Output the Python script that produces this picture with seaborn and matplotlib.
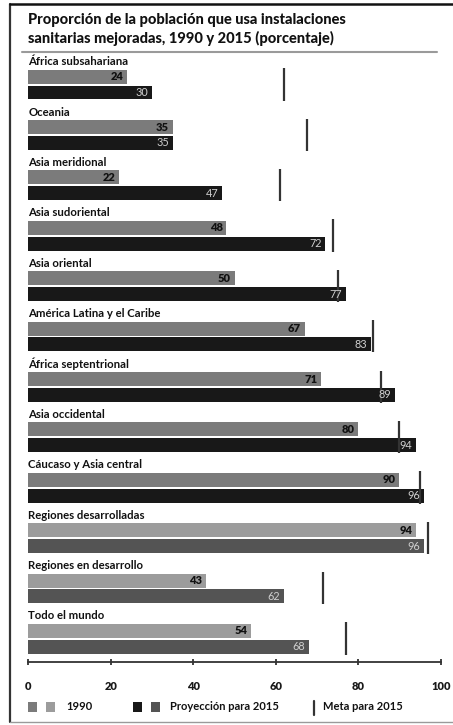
import matplotlib
matplotlib.use("Agg")
import matplotlib.pyplot as plt
from matplotlib.lines import Line2D
from matplotlib.patches import Rectangle
import seaborn as sns
import pandas as pd

# Regions and values (percent of population using improved sanitation)
regions = [
    "África subsahariana", "Oceania", "Asia meridional", "Asia sudoriental",
    "Asia oriental", "América Latina y el Caribe", "África septentrional",
    "Asia occidental", "Cáucaso y Asia central", "Regiones desarrolladas",
    "Regiones en desarrollo", "Todo el mundo",
]
v1990 = [24, 35, 22, 48, 50, 67, 71, 80, 90, 94, 43, 54]
v2015 = [30, 35, 47, 72, 77, 83, 89, 94, 96, 96, 62, 68]
meta2015 = [62, 67.5, 61, 74, 75, 83.5, 85.5, 90, 95, 97, 71.5, 77]
aggregates = ["Regiones desarrolladas", "Regiones en desarrollo", "Todo el mundo"]
xticks = [0, 20, 40, 60, 80, 100]

title_lines = ["Proporción de la población que usa instalaciones",
               "sanitarias mejoradas, 1990 y 2015 (porcentaje)"]
legend_labels = ["1990", "Proyección para 2015", "Meta para 2015"]

FONT = "Lato"
sns.set_theme(style="white")
plt.rcParams["font.family"] = [FONT, "DejaVu Sans"]

W, H = 453, 725
fig = plt.figure(figsize=(W / 100, H / 100), dpi=100)
fig.patch.set_facecolor("white")


def fx(px):
    return px / W


def fy(py):
    return 1 - py / H


# axes in pixel-row units on y so the grouped layout is easy to place
AX_TOP, AX_BOT = 55, 662
X0, X1 = 28.3, 440.7
ax = fig.add_axes([fx(X0), fy(AX_BOT), (X1 - X0) / W, (AX_BOT - AX_TOP) / H])

STEP = 50.39
FIRST_BAR = 76.7
PAIR_GAP = 15.8
BAR_H = 14.0
y1990 = [FIRST_BAR + i * STEP for i in range(len(regions))]
y2015 = [y + PAIR_GAP for y in y1990]
label_y = [y - 15.0 for y in y1990]

rows = []
for i, r in enumerate(regions):
    agg = r in aggregates
    rows.append(dict(region=r, value=v1990[i], ypos=y1990[i],
                     shade="1990b" if agg else "1990a"))
    rows.append(dict(region=r, value=v2015[i], ypos=y2015[i],
                     shade="2015b" if agg else "2015a"))
df = pd.DataFrame(rows)

palette = {"1990a": "#7b7b7b", "2015a": "#181818",
           "1990b": "#9c9c9c", "2015b": "#545454"}

sns.barplot(data=df, x="value", y="ypos", hue="shade", palette=palette,
            orient="h", native_scale=True, dodge=False, errorbar=None,
            width=BAR_H / PAIR_GAP, linewidth=0, legend=False, ax=ax)

ax.set_xlim(0, 100)
ax.set_ylim(AX_BOT, AX_TOP)
ax.set_xlabel("")
ax.set_ylabel("")
ax.set_yticks([])
ax.set_xticks(xticks)
ax.set_xticklabels([str(t) for t in xticks], fontsize=8, fontweight="heavy",
                   color="#1a1a1a")
ax.tick_params(axis="x", direction="inout", length=5, width=1.3,
               color="#333333", pad=11, bottom=True)
for s in ["top", "right", "left"]:
    ax.spines[s].set_visible(False)
ax.spines["bottom"].set_color("#333333")
ax.spines["bottom"].set_linewidth(1.3)
ax.patch.set_alpha(0)

# region names, value labels and target markers
for i, r in enumerate(regions):
    ax.text(0, label_y[i], r, ha="left", va="center", fontsize=8.2,
            fontweight="bold", color="#111111")
    ax.text(v1990[i] - 0.9, y1990[i], str(v1990[i]), ha="right", va="center",
            fontsize=8, fontweight="heavy", color="#111111")
    ax.text(v2015[i] - 0.9, y2015[i], str(v2015[i]), ha="right", va="center",
            fontsize=7.8, color="#d0d0d0")
ax.vlines(meta2015, [y - BAR_H / 2 - 1.5 for y in y1990],
          [y + BAR_H / 2 + 1 for y in y2015], color="#333333", linewidth=1.6)

# title
for k, line in enumerate(title_lines):
    fig.text(fx(28), fy(20 + 18 * k), line, fontsize=10.5, fontweight="black",
             ha="left", va="center", color="#111111")

# frame and rules
fig.add_artist(Line2D([fx(10), fx(10)], [fy(3.5), fy(722)], color="#333333", lw=1.6))
fig.add_artist(Line2D([fx(10), 1], [fy(4), fy(4)], color="#111111", lw=1.8))
fig.add_artist(Line2D([fx(10), 1], [fy(722), fy(722)], color="#9a9a9a", lw=1.0))
fig.add_artist(Line2D([fx(22), fx(437)], [fy(52), fy(52)], color="#9a9a9a", lw=1.5))

# legend
LY = 707


def square(x, color):
    fig.add_artist(Rectangle((fx(x), fy(LY + 5)), 9 / W, 10 / H,
                             transform=fig.transFigure, facecolor=color,
                             edgecolor="none"))


square(28, palette["1990a"])
square(46, palette["1990b"])
fig.text(fx(66), fy(LY), legend_labels[0], fontsize=8, fontweight="bold",
         ha="left", va="center", color="#111111")
square(133, palette["2015a"])
square(151, palette["2015b"])
fig.text(fx(170), fy(LY), legend_labels[1], fontsize=8, fontweight="bold",
         ha="left", va="center", color="#111111")
fig.add_artist(Line2D([fx(314), fx(314)], [fy(701), fy(715)], color="#333333", lw=1.6))
fig.text(fx(323), fy(LY - 1), legend_labels[2], fontsize=8, fontweight="bold",
         ha="left", va="center", color="#111111")

fig.savefig("out.png", dpi=100, facecolor="white")
